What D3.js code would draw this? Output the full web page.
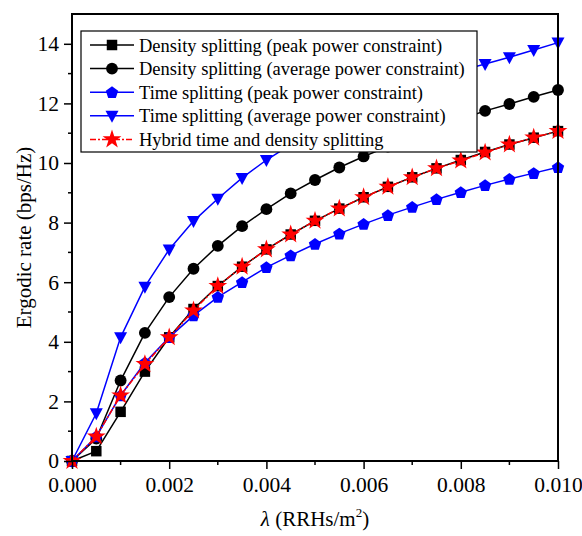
<!DOCTYPE html>
<html>
<head>
<meta charset="utf-8">
<script src="https://cdn.jsdelivr.net/npm/d3@7"></script>
<style>
  body { margin: 0; background: #fff; }
  text { font-family: "Liberation Serif", "Times New Roman", serif; fill: #000; }
</style>
</head>
<body>
<div id="chart"></div>
<script>
var svgWidth = 582;
var svgHeight = 536;

var margin = { top: 14, right: 24, bottom: 75, left: 72 };
var width = svgWidth - margin.left - margin.right;
var height = svgHeight - margin.top - margin.bottom;

// data
var lambdas = [0, 0.0005, 0.001, 0.0015, 0.002, 0.0025, 0.003, 0.0035, 0.004, 0.0045, 0.005,
  0.0055, 0.006, 0.0065, 0.007, 0.0075, 0.008, 0.0085, 0.009, 0.0095, 0.01];
var densityPeak = [0, 0.33, 1.65, 3.0, 4.15, 5.1, 5.87, 6.52, 7.1, 7.6, 8.06,
  8.47, 8.85, 9.2, 9.52, 9.82, 10.1, 10.37, 10.62, 10.85, 11.07];
var densityAvg = [0, 0.75, 2.7, 4.3, 5.5, 6.45, 7.22, 7.88, 8.45, 8.98, 9.43,
  9.85, 10.22, 10.55, 10.88, 11.18, 11.47, 11.75, 11.98, 12.22, 12.45];
var timePeak = [0, 0.82, 2.2, 3.3, 4.15, 4.88, 5.5, 6.0, 6.5, 6.9, 7.28,
  7.63, 7.95, 8.25, 8.52, 8.78, 9.02, 9.25, 9.46, 9.66, 9.86];
var timeAvg = [0, 1.6, 4.15, 5.85, 7.1, 8.05, 8.8, 9.5, 10.1, 10.62, 11.1,
  11.5, 11.88, 12.22, 12.55, 12.85, 13.1, 13.32, 13.55, 13.79, 14.04];
var hybrid = [0, 0.82, 2.2, 3.25, 4.15, 5.05, 5.87, 6.52, 7.1, 7.6, 8.06,
  8.47, 8.85, 9.2, 9.52, 9.82, 10.08, 10.35, 10.62, 10.85, 11.07];

var seriesNames = [
  "Density splitting (peak power constraint)",
  "Density splitting (average power constraint)",
  "Time splitting (peak power constraint)",
  "Time splitting (average power constraint)",
  "Hybrid time and density splitting"
];

var xTicks = [0, 0.002, 0.004, 0.006, 0.008, 0.01];
var yTicks = [0, 2, 4, 6, 8, 10, 12, 14];

var series = [
  { name: seriesNames[0], values: densityPeak, color: "#000", shape: "square", dash: null },
  { name: seriesNames[1], values: densityAvg, color: "#000", shape: "circle", dash: null },
  { name: seriesNames[2], values: timePeak, color: "#0000ff", shape: "pentagon", dash: null },
  { name: seriesNames[3], values: timeAvg, color: "#0000ff", shape: "triangle", dash: null },
  { name: seriesNames[4], values: hybrid, color: "#ff0000", shape: "star", dash: "6,2,2,2" }
];

var svg = d3.select("#chart")
  .append("svg")
  .attr("width", svgWidth)
  .attr("height", svgHeight);

var chartGroup = svg.append("g")
  .attr("transform", `translate(${margin.left}, ${margin.top})`);

var xScale = d3.scaleLinear().domain([0, 0.01]).range([0, width]);
var yScale = d3.scaleLinear().domain([0, 15]).range([height, 0]);

function markerPath(shape) {
  if (shape === "square") return d3.symbol(d3.symbolSquare, 110)();
  if (shape === "circle") return d3.symbol(d3.symbolCircle, 110)();
  if (shape === "star") return d3.symbol(d3.symbolStar, 110)();
  if (shape === "triangle") {
    return "M-6.5,-5L6.5,-5L0,7Z";
  }
  // pentagon
  var pts = [];
  for (var i = 0; i < 5; i++) {
    var a = -Math.PI / 2 + i * 2 * Math.PI / 5;
    pts.push([6.5 * Math.cos(a), 6.5 * Math.sin(a) + 0.5]);
  }
  return "M" + pts.map(p => p.join(",")).join("L") + "Z";
}

var line = d3.line()
  .x(d => xScale(d[0]))
  .y(d => yScale(d[1]));

series.forEach(function(s) {
  var pts = lambdas.map((x, i) => [x, s.values[i]]);
  var g = chartGroup.append("g");
  g.append("path")
    .datum(pts)
    .attr("d", line)
    .attr("fill", "none")
    .attr("stroke", s.color)
    .attr("stroke-width", 1.5)
    .attr("stroke-dasharray", s.dash);
  g.selectAll("path.mk")
    .data(pts)
    .enter()
    .append("path")
    .attr("class", "mk")
    .attr("d", markerPath(s.shape))
    .attr("transform", d => `translate(${xScale(d[0])}, ${yScale(d[1])})`)
    .attr("fill", s.color);
});

// axes
var bottomAxis = d3.axisBottom(xScale)
  .tickValues(xTicks)
  .tickFormat(d3.format(".3f"))
  .tickSizeInner(8)
  .tickSizeOuter(0)
  .tickPadding(8);
var leftAxis = d3.axisLeft(yScale)
  .tickValues(yTicks)
  .tickSizeInner(8)
  .tickSizeOuter(0)
  .tickPadding(5);

var xMinor = d3.range(0.001, 0.01, 0.002);
var yMinor = d3.range(1, 15, 2);

chartGroup.selectAll("line.xminor")
  .data(xMinor)
  .enter()
  .append("line")
  .attr("x1", d => xScale(d)).attr("x2", d => xScale(d))
  .attr("y1", height).attr("y2", height + 4)
  .attr("stroke", "#000").attr("stroke-width", 1.5);

chartGroup.selectAll("line.yminor")
  .data(yMinor)
  .enter()
  .append("line")
  .attr("y1", d => yScale(d)).attr("y2", d => yScale(d))
  .attr("x1", 0).attr("x2", -4)
  .attr("stroke", "#000").attr("stroke-width", 1.5);

var xg = chartGroup.append("g")
  .attr("transform", `translate(0, ${height})`)
  .call(bottomAxis);
var yg = chartGroup.append("g")
  .call(leftAxis);

[xg, yg].forEach(function(g) {
  g.select(".domain").remove();
  g.selectAll(".tick line").attr("stroke-width", 1.5);
  g.selectAll(".tick text")
    .style("font-family", "Liberation Serif, serif")
    .style("font-size", "21.5px")
    .attr("fill", "#000");
});

// frame
chartGroup.append("rect")
  .attr("x", 0).attr("y", 0)
  .attr("width", width).attr("height", height)
  .attr("fill", "none")
  .attr("stroke", "#000")
  .attr("stroke-width", 2);

// legend
var legend = chartGroup.append("g")
  .attr("transform", `translate(${81 - margin.left}, ${31 - margin.top})`);
legend.append("rect")
  .attr("width", 396).attr("height", 121)
  .attr("fill", "#fff")
  .attr("stroke", "#000")
  .attr("stroke-width", 1.2);

series.forEach(function(s, i) {
  var yy = 14 + i * 23.6;
  legend.append("line")
    .attr("x1", 9).attr("x2", 53)
    .attr("y1", yy).attr("y2", yy)
    .attr("stroke", s.color)
    .attr("stroke-width", 1.5)
    .attr("stroke-dasharray", s.dash);
  legend.append("path")
    .attr("d", markerPath(s.shape))
    .attr("transform", `translate(31, ${yy})`)
    .attr("fill", s.color);
  legend.append("text")
    .attr("x", 58)
    .attr("y", yy + 6.5)
    .style("font-size", "18.5px")
    .text(s.name);
});

// axis titles
var xTitle = svg.append("text")
  .attr("x", margin.left + width / 2)
  .attr("y", 526)
  .attr("text-anchor", "middle")
  .style("font-size", "21px");
xTitle.append("tspan").style("font-style", "italic").text("λ");
xTitle.append("tspan").text(" (RRHs/m");
xTitle.append("tspan").attr("dy", -9).style("font-size", "13px").text("2");
xTitle.append("tspan").attr("dy", 9).text(")");

svg.append("text")
  .attr("transform", `translate(31, ${margin.top + height / 2}) rotate(-90)`)
  .attr("text-anchor", "middle")
  .style("font-size", "21px")
  .text("Ergodic rate (bps/Hz)");
</script>
</body>
</html>
